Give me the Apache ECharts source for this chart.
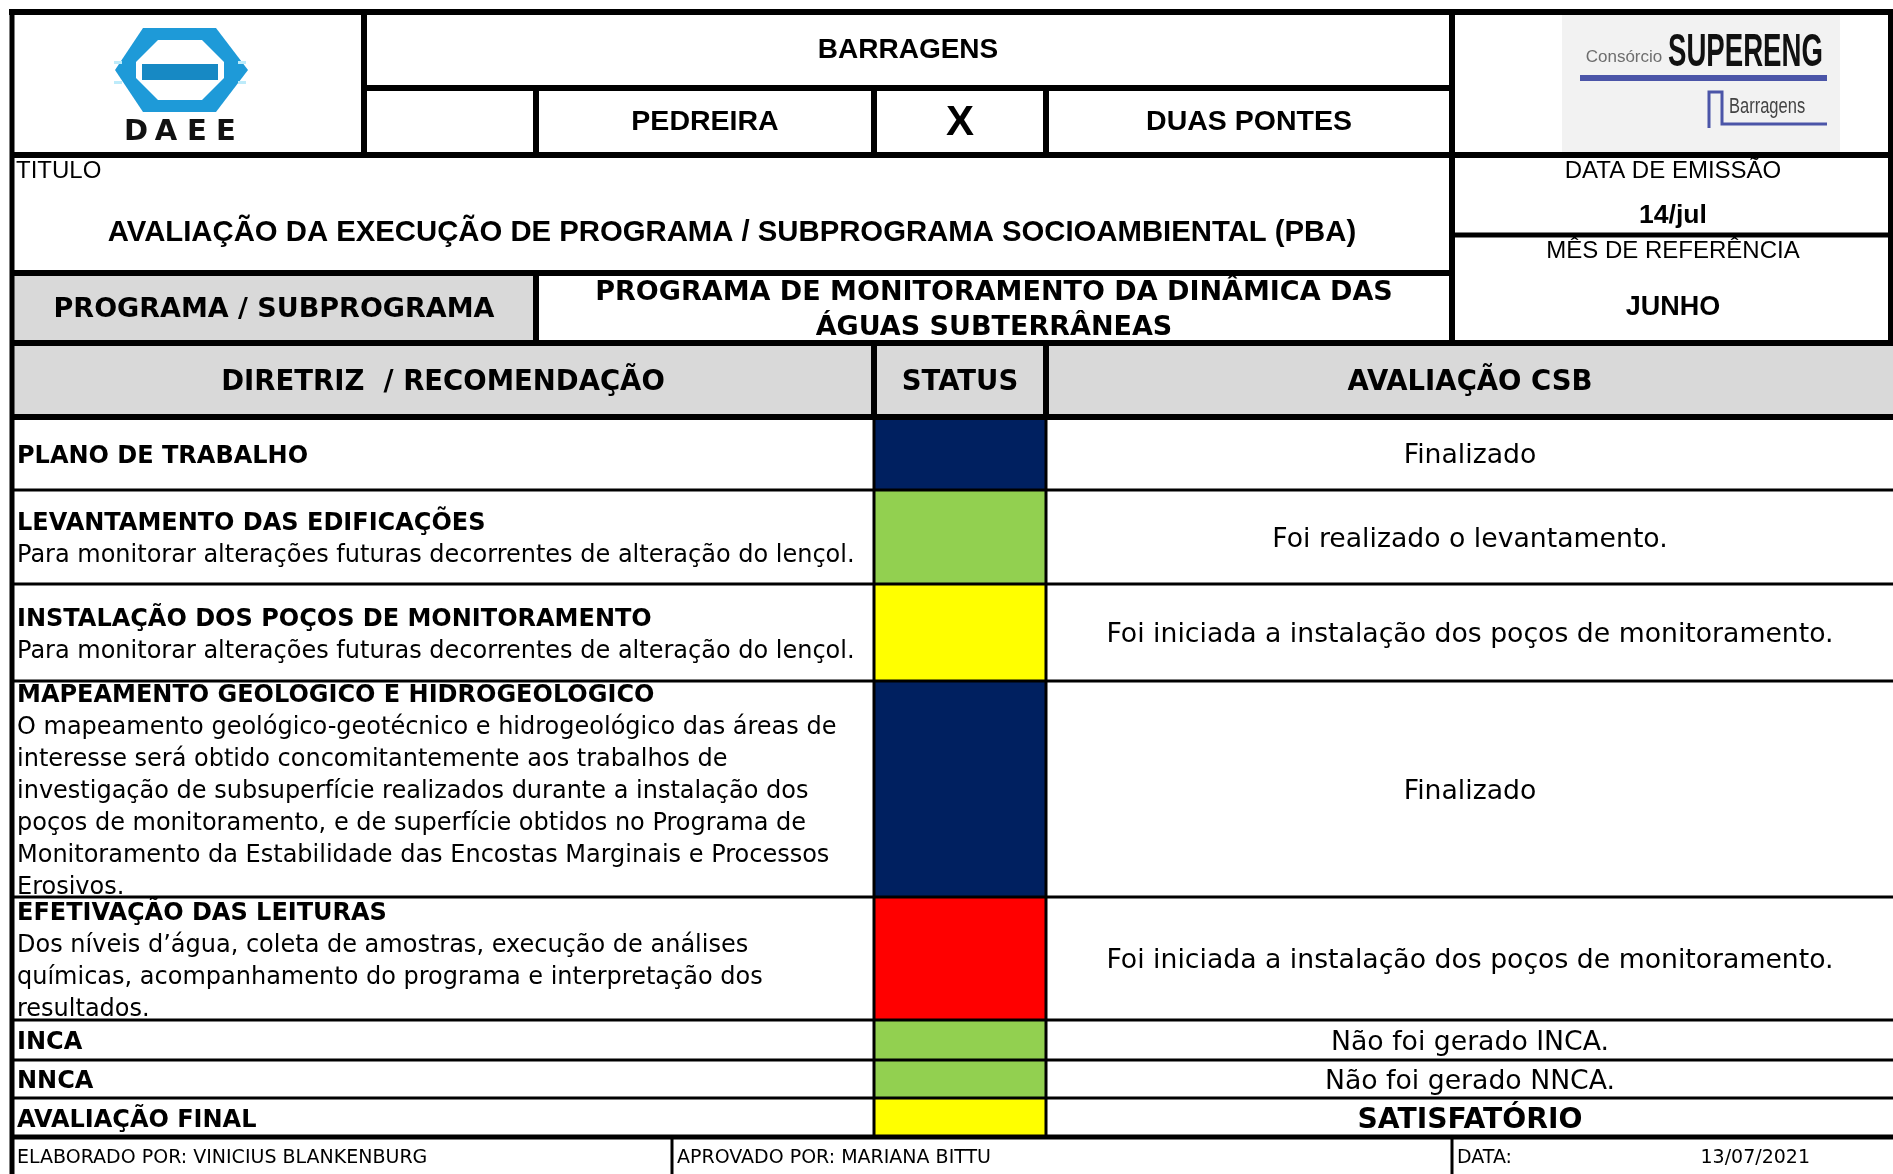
<!DOCTYPE html>
<html><head><meta charset="utf-8">
<script src="https://cdn.jsdelivr.net/npm/echarts@6/dist/echarts.min.js"></script>
<style>html,body{margin:0;padding:0;background:#fff}#c{width:1893px;height:1174px}</style>
</head><body><div id="c"></div>
<script>
// ---------- DATA ----------
const sheetTitle = 'BARRAGENS';
const damNames = ['PEDREIRA', 'X', 'DUAS PONTES'];
const docTitleLabel = 'TITULO';
const docTitle = 'AVALIAÇÃO DA EXECUÇÃO DE PROGRAMA / SUBPROGRAMA SOCIOAMBIENTAL (PBA)';
const issueInfo = ['DATA DE EMISSÃO', '14/jul'];
const referenceInfo = ['MÊS DE REFERÊNCIA', 'JUNHO'];
const programInfo = ['PROGRAMA / SUBPROGRAMA', 'PROGRAMA DE MONITORAMENTO DA DINÂMICA DAS\nÁGUAS SUBTERRÂNEAS'];
const columnHeaders = ['DIRETRIZ  / RECOMENDAÇÃO', 'STATUS', 'AVALIAÇÃO CSB'];
const items = ['PLANO DE TRABALHO', 'LEVANTAMENTO DAS EDIFICAÇÕES', 'INSTALAÇÃO DOS POÇOS DE MONITORAMENTO',
  'MAPEAMENTO GEOLOGICO E HIDROGEOLOGICO', 'EFETIVAÇÃO DAS LEITURAS', 'INCA', 'NNCA', 'AVALIAÇÃO FINAL'];
const itemDescriptions = [
  '',
  'Para monitorar alterações futuras decorrentes de alteração do lençol.',
  'Para monitorar alterações futuras decorrentes de alteração do lençol.',
  'O mapeamento geológico-geotécnico e hidrogeológico das áreas de\ninteresse será obtido concomitantemente aos trabalhos de\ninvestigação de subsuperfície realizados durante a instalação dos\npoços de monitoramento, e de superfície obtidos no Programa de\nMonitoramento da Estabilidade das Encostas Marginais e Processos\nErosivos.',
  'Dos níveis d’água, coleta de amostras, execução de análises\nquímicas, acompanhamento do programa e interpretação dos\nresultados.',
  '', '', ''];
const itemStatus = ['finalizado', 'atendido', 'parcial', 'finalizado', 'nao_atendido', 'atendido', 'atendido', 'parcial'];
const itemEvaluation = ['Finalizado', 'Foi realizado o levantamento.', 'Foi iniciada a instalação dos poços de monitoramento.',
  'Finalizado', 'Foi iniciada a instalação dos poços de monitoramento.', 'Não foi gerado INCA.', 'Não foi gerado NNCA.', 'SATISFATÓRIO'];
const footerTexts = ['ELABORADO POR: VINICIUS BLANKENBURG', 'APROVADO POR: MARIANA BITTU', 'DATA:', '13/07/2021'];

// ---------- STYLE / LAYOUT ----------
const statusColors = {finalizado: '#002060', atendido: '#92D050', parcial: '#FFFF00', nao_atendido: '#FF0000'};
const ARIAL = '"Liberation Sans", Arial, sans-serif';
const VERD = '"DejaVu Sans", Verdana, sans-serif';
const GRAY = '#D9D9D9';
const L = {left: 12, logoR: 364, damL: 536, stL: 874, stR: 1046, hdrR: 1452, right: 1894, footMid: 672,
  top: 12, r1: 88, r2: 155, issue: 235, title: 273, prog: 343, colHdr: 417,
  body: [417, 490, 584, 681, 897, 1020, 1060, 1098, 1137], bottom: 1174};
const bodyLH = 32;
const vShift = 3;

function T(text, font, opts) { return Object.assign({text: text, font: font}, opts || {}); }

const cells = [];
function cell(x0, y0, x1, y1, fill, texts) { cells.push({x0, y0, x1, y1, fill, texts: texts || []}); }

// header
cell(L.logoR, L.top, L.hdrR, L.r1, null, [T(sheetTitle, 'bold 28px ' + ARIAL)]);
cell(L.damL, L.r1, L.stL, L.r2, null, [T(damNames[0], 'bold 28.5px ' + ARIAL, {dy: 1})]);
cell(L.stL, L.r1, L.stR, L.r2, null, [T(damNames[1], 'bold 42px ' + ARIAL, {dy: 2})]);
cell(L.stR, L.r1, L.hdrR, L.r2, null, [T(damNames[2], 'bold 28.5px ' + ARIAL, {dy: 1})]);
cell(L.left, L.r2, L.hdrR, L.title, null, [
  T(docTitleLabel, '24px ' + ARIAL, {align: 'left', dx: 4, y: 171}),
  T(docTitle, 'bold 29.3px ' + ARIAL, {y: 233})]);
cell(L.hdrR, L.r2, L.right, L.issue, null, [
  T(issueInfo[0], '24px ' + ARIAL, {y: 171}), T(issueInfo[1], 'bold 26.5px ' + ARIAL, {y: 216})]);
cell(L.hdrR, L.issue, L.right, L.prog, null, [
  T(referenceInfo[0], '24px ' + ARIAL, {y: 251}), T(referenceInfo[1], 'bold 27px ' + ARIAL, {y: 308})]);
cell(L.left, L.title, L.damL, L.prog, GRAY, [T(programInfo[0], 'bold 27px ' + VERD, {dy: 2})]);
cell(L.damL, L.title, L.hdrR, L.prog, null, [T(programInfo[1], 'bold 27px ' + VERD, {lh: 35, dy: 2})]);
cell(L.left, L.prog, L.stL, L.colHdr, GRAY, [T(columnHeaders[0], 'bold 27.5px ' + VERD, {dy: 3})]);
cell(L.stL, L.prog, L.stR, L.colHdr, GRAY, [T(columnHeaders[1], 'bold 27.5px ' + VERD, {dy: 3})]);
cell(L.stR, L.prog, L.right, L.colHdr, GRAY, [T(columnHeaders[2], 'bold 27.5px ' + VERD, {dy: 3})]);

// body
items.forEach(function (name, i) {
  const y0 = L.body[i], y1 = L.body[i + 1];
  const desc = itemDescriptions[i];
  const nLines = 1 + (desc ? desc.split('\n').length : 0);
  const top = (y0 + y1) / 2 - nLines * bodyLH / 2 + vShift;
  const t = [T(name, 'bold 24px ' + VERD, {align: 'left', dx: 5, y: top + bodyLH / 2})];
  if (desc) t.push(T(desc, '24px ' + VERD, {align: 'left', dx: 5, y: top + bodyLH, va: 'top', lh: bodyLH}));
  cell(L.left, y0, L.stL, y1, null, t);
  cell(L.stL, y0, L.stR, y1, statusColors[itemStatus[i]], []);
  const isFinal = i === items.length - 1;
  cell(L.stR, y0, L.right, y1, null, [T(itemEvaluation[i], (isFinal ? 'bold 28.2px ' : '26.7px ') + VERD, {dy: vShift})]);
});
// footer
const fy = L.body[L.body.length - 1];
cell(L.left, fy, L.footMid, L.bottom, null, [T(footerTexts[0], '19px ' + VERD, {align: 'left', dx: 5, y: 1158})]);
cell(L.footMid, fy, L.hdrR, L.bottom, null, [T(footerTexts[1], '19px ' + VERD, {align: 'left', dx: 5, y: 1158})]);
cell(L.hdrR, fy, L.right, L.bottom, null, [
  T(footerTexts[2], '19px ' + VERD, {align: 'left', dx: 5, y: 1158}),
  T(footerTexts[3], '19px ' + VERD, {align: 'right', x: 1810, y: 1158})]);

// rules: [x1, y1, x2, y2, width]
const TH = 6, TN = 3;
const rules = [
  [L.left - 3, L.top, 1893, L.top, TH],
  [L.left, L.top - 3, L.left, L.bottom, 5],
  [1891, L.top - 3, 1891, L.prog, TH],
  [L.logoR, L.r1, L.hdrR, L.r1, TH],
  [L.left, L.r2, 1893, L.r2, TH],
  [L.logoR, L.top, L.logoR, L.r2, TH],
  [L.damL, L.r1, L.damL, L.r2, TH],
  [L.stL, L.r1, L.stL, L.r2, TH],
  [L.stR, L.r1, L.stR, L.r2, TH],
  [L.hdrR, L.top, L.hdrR, L.prog, TH],
  [L.hdrR, L.issue, 1893, L.issue, 5],
  [L.left, L.title, L.hdrR, L.title, TH],
  [L.damL, L.title, L.damL, L.prog, TH],
  [L.left, L.prog, 1893, L.prog, TH],
  [L.stL, L.prog, L.stL, L.colHdr, TH],
  [L.stR, L.prog, L.stR, L.colHdr, TH],
  [L.left, L.colHdr, 1893, L.colHdr, TH],
  [L.stL, L.colHdr, L.stL, fy, TN],
  [L.stR, L.colHdr, L.stR, fy, TN],
  [L.footMid, fy, L.footMid, L.bottom, TN],
  [L.hdrR, fy, L.hdrR, L.bottom, TN]
];
L.body.slice(1, -1).forEach(function (y) { rules.push([L.left, y, 1893, y, TN]); });
rules.push([L.left, fy, 1893, fy, 5]);

const chart = echarts.init(document.getElementById('c'), null, {renderer: 'canvas'});

function renderCell(params, api) {
  const c = cells[params.dataIndex];
  const p0 = api.coord([c.x0, c.y0]), p1 = api.coord([c.x1, c.y1]);
  const ch = [];
  if (c.fill) ch.push({type: 'rect', shape: {x: p0[0], y: p0[1], width: p1[0] - p0[0], height: p1[1] - p0[1]}, style: {fill: c.fill}});
  c.texts.forEach(function (t) {
    const align = t.align || 'center';
    let x;
    if (t.x != null) x = api.coord([t.x, 0])[0];
    else if (align === 'left') x = p0[0] + (t.dx || 0);
    else x = (p0[0] + p1[0]) / 2;
    const y = (t.y != null ? api.coord([0, t.y])[1] : (p0[1] + p1[1]) / 2) + (t.dy || 0);
    ch.push({type: 'text', x: x, y: y, style: {text: t.text, font: t.font, fill: '#000',
      align: align, verticalAlign: t.va || 'middle', textAlign: align, textVerticalAlign: t.va || 'middle',
      lineHeight: t.lh || undefined}});
  });
  return {type: 'group', children: ch};
}
function renderRule(params, api) {
  const r = rules[params.dataIndex];
  const a = api.coord([r[0], r[1]]), b = api.coord([r[2], r[3]]);
  const h = r[4] / 2;
  const horiz = a[1] === b[1];
  const x = Math.min(a[0], b[0]) - (horiz ? 0 : h);
  const y = Math.min(a[1], b[1]) - (horiz ? h : 0);
  const w = horiz ? Math.abs(b[0] - a[0]) : r[4];
  const hh = horiz ? r[4] : Math.abs(b[1] - a[1]);
  return {type: 'rect', shape: {x: x, y: y, width: w, height: hh}, style: {fill: '#000'}};
}

// decorative logos (images in the original)
const logoBlue = '#1E9AD8';
const letterStyle = function (ch) { return {text: ch, font: 'bold 29px ' + VERD, fill: '#111', align: 'center', verticalAlign: 'middle'}; };
const graphics = [
  {type: 'polygon', shape: {points: [[143, 28], [216, 28], [248, 70], [216, 112], [143, 112], [115, 70]]}, style: {fill: logoBlue}},
  {type: 'polygon', shape: {points: [[158, 40], [202, 40], [224, 62], [224, 78], [202, 100], [158, 100], [136, 78], [136, 62]]}, style: {fill: '#fff'}},
  {type: 'rect', shape: {x: 142, y: 64, width: 76, height: 16}, style: {fill: '#1789C4'}},
  {type: 'rect', shape: {x: 114, y: 61, width: 8, height: 3}, style: {fill: '#BDEBFA'}},
  {type: 'rect', shape: {x: 238, y: 61, width: 8, height: 3}, style: {fill: '#BDEBFA'}},
  {type: 'rect', shape: {x: 114, y: 81, width: 8, height: 3}, style: {fill: '#BDEBFA'}},
  {type: 'rect', shape: {x: 238, y: 81, width: 8, height: 3}, style: {fill: '#BDEBFA'}},
  {type: 'text', x: 136, y: 132, style: letterStyle('D')},
  {type: 'text', x: 166, y: 132, style: letterStyle('A')},
  {type: 'text', x: 197, y: 132, style: letterStyle('E')},
  {type: 'text', x: 226, y: 132, style: letterStyle('E')},
  {type: 'rect', shape: {x: 1562, y: 15, width: 278, height: 137}, style: {fill: '#F2F2F2'}},
  {type: 'text', x: 1624, y: 57, style: {text: 'Consórcio', font: '17px ' + ARIAL, fill: '#6E6E6E', align: 'center', verticalAlign: 'middle'}},
  {type: 'text', x: 1668, y: 53, scaleX: 0.6, style: {text: 'SUPERENG', font: 'bold 46px ' + ARIAL, fill: '#111', align: 'left', verticalAlign: 'middle'}},
  {type: 'rect', shape: {x: 1580, y: 75, width: 247, height: 6}, style: {fill: '#4B55A8'}},
  {type: 'polyline', shape: {points: [[1709, 128], [1709, 92], [1722, 92], [1722, 124], [1827, 124]]}, style: {stroke: '#4B55A8', lineWidth: 3, fill: null}},
  {type: 'text', x: 1729, y: 107, scaleX: 0.75, style: {text: 'Barragens', font: '22px ' + ARIAL, fill: '#444', align: 'left', verticalAlign: 'middle'}}
];

chart.setOption({
  animation: false,
  grid: {left: 0, right: 0, top: 0, bottom: 0},
  xAxis: {type: 'value', min: 0, max: 1893, show: false},
  yAxis: {type: 'value', min: 0, max: 1174, inverse: true, show: false},
  graphic: {elements: graphics},
  series: [
    {type: 'custom', renderItem: renderCell, clip: false, silent: true,
      encode: {x: [0, 2], y: [1, 3]}, data: cells.map(function (c) { return [c.x0, c.y0, c.x1, c.y1]; })},
    {type: 'custom', renderItem: renderRule, clip: false, silent: true,
      encode: {x: [0, 2], y: [1, 3]}, data: rules.map(function (r) { return [r[0], r[1], r[2], r[3]]; })}
  ]
});
</script></body></html>
